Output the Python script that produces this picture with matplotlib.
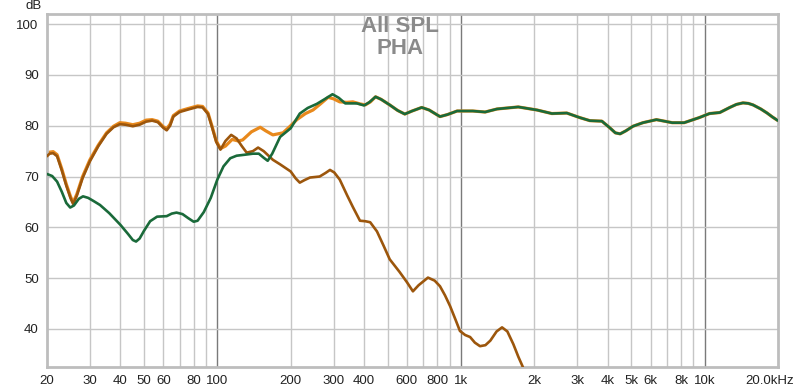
import matplotlib
matplotlib.use("Agg")
import matplotlib.pyplot as plt
from matplotlib.ticker import FixedLocator, NullFormatter, NullLocator
from matplotlib.transforms import ScaledTranslation

plt.rcParams['font.family'] = ['Liberation Sans', 'DejaVu Sans']

# ---- data ----
green_f = [20, 21, 22, 23, 24, 24.9, 25.8, 27, 28.1, 29.5, 31, 33, 36, 40, 43, 45, 46.4, 48,
           50, 53, 56.6, 62, 65, 68, 72, 76, 80, 83, 88, 94, 100, 106, 113, 120, 130, 140,
           148, 155, 161, 168, 181, 200, 218, 235, 256, 275, 297, 315, 335, 374, 400, 420,
           446, 470, 510, 550, 588, 630, 690, 740, 820, 880, 964, 1118, 1256, 1406, 1718,
           2050, 2360, 2718, 3074, 3380, 3786, 4080, 4300, 4500, 4750, 5080, 5580, 6340,
           7360, 8240, 9500, 10470, 11540, 12680, 13500, 14360, 15100, 15800, 17000, 18040,
           19000, 20000]
green_db = [70.5, 70.1, 69.0, 67.0, 64.8, 63.9, 64.3, 65.6, 66.1, 65.8, 65.2, 64.4, 62.8, 60.5,
            58.7, 57.5, 57.2, 57.8, 59.3, 61.2, 62.1, 62.2, 62.7, 62.9, 62.6, 61.8, 61.1, 61.3,
            63.0, 65.8, 69.4, 72.0, 73.6, 74.1, 74.3, 74.5, 74.5, 73.7, 73.1, 74.5, 77.8,
            79.5, 82.4, 83.5, 84.3, 85.2, 86.2, 85.5, 84.4, 84.4, 84.0, 84.6, 85.7, 85.2,
            84.1, 83.0, 82.3, 82.9, 83.6, 83.1, 81.8, 82.2, 82.9, 82.9, 82.7, 83.3, 83.7,
            83.1, 82.4, 82.5, 81.6, 81.0, 80.9, 79.6, 78.6, 78.4, 79.0, 79.9, 80.6, 81.2,
            80.6, 80.6, 81.6, 82.4, 82.6, 83.6, 84.2, 84.5, 84.4, 84.1, 83.3, 82.5, 81.7,
            81.0]

orange_f = [20, 20.5, 21.2, 22, 23, 24, 25, 25.6, 26.5, 28, 30, 32.5, 35.1, 37.5, 39.8, 42,
            45, 48, 51, 54, 57, 60, 62, 64, 66, 70, 76, 83, 87, 91.6, 95, 99, 103, 108, 115,
            122, 127, 138, 150, 158, 169, 186, 200, 212, 230, 247, 265, 285, 300, 318, 340,
            360, 385, 405, 425, 446, 470, 510, 550, 588, 630, 690, 740, 820, 880, 964, 1118,
            1256, 1406, 1718, 2050, 2360, 2718, 3074, 3380, 3786, 4080, 4300, 4500, 4750,
            5080, 5580, 6340, 7360, 8240, 9500, 10470, 11540, 12680, 13500, 14360, 15100,
            15800, 17000, 18040, 19000, 20000]
orange_db = [74.3, 74.8, 74.9, 74.3, 71.5, 68.5, 66.0, 64.9, 66.5, 70.0, 73.3, 76.2, 78.6, 79.9,
             80.6, 80.5, 80.2, 80.5, 81.1, 81.2, 80.9, 79.8, 79.4, 80.3, 82.0, 82.9, 83.4,
             83.9, 83.8, 82.5, 80.0, 77.0, 75.5, 76.0, 77.3, 77.0, 77.2, 78.8, 79.7, 79.0,
             78.2, 78.6, 80.0, 81.2, 82.4, 83.1, 84.3, 85.6, 85.3, 84.7, 84.6, 84.7, 84.3,
             84.1, 84.7, 85.7, 85.2, 84.1, 83.0, 82.3, 82.9, 83.6, 83.1, 81.8, 82.2, 82.9,
             82.9, 82.7, 83.3, 83.7, 83.1, 82.4, 82.5, 81.6, 81.0, 80.9, 79.6, 78.6, 78.4,
             79.0, 79.9, 80.6, 81.2, 80.6, 80.6, 81.6, 82.4, 82.6, 83.6, 84.2, 84.5, 84.4,
             84.1, 83.3, 82.5, 81.7, 81.0]

brown_f = [20, 20.5, 21.2, 22, 23, 24, 25, 25.6, 26.5, 28, 30, 32.5, 35.1, 37.5, 39.8, 42, 45,
           48, 51, 54, 57, 60, 62, 64, 66, 70, 76, 83, 87, 91.6, 95, 99, 103, 108, 114, 120,
           126, 132, 140, 147, 155, 169, 181, 200, 210, 218, 228, 240, 263, 278, 290, 302,
           318, 341, 360, 385, 405, 424, 452, 480, 510, 560, 600, 635, 670, 732, 780, 820,
           860, 902, 950, 990, 1040, 1090, 1140, 1197, 1260, 1320, 1400, 1474, 1550, 1640,
           1720, 1787, 1900]
brown_db = [74.0, 74.5, 74.6, 74.0, 71.2, 68.2, 65.7, 64.6, 66.2, 69.7, 73.0, 76.0, 78.4, 79.7,
            80.3, 80.2, 79.9, 80.2, 80.8, 81.0, 80.7, 79.6, 79.1, 80.0, 81.8, 82.7, 83.2, 83.7,
            83.6, 82.3, 79.8, 76.8, 75.3, 77.0, 78.2, 77.5, 76.0, 74.7, 75.0, 75.7, 75.0,
            73.3, 72.4, 71.0, 69.6, 68.8, 69.3, 69.8, 70.0, 70.7, 71.3, 70.8, 69.4, 66.3,
            64.0, 61.3, 61.2, 61.0, 59.2, 56.5, 53.7, 51.2, 49.2, 47.4, 48.6, 50.1, 49.5,
            48.4, 46.6, 44.5, 41.8, 39.6, 38.8, 38.4, 37.3, 36.6, 36.8, 37.7, 39.5, 40.3,
            39.5, 37.0, 34.5, 32.7, 29.5]

x_ticks = [20, 30, 40, 50, 60, 80, 100, 200, 300, 400, 600, 800, 1000, 2000, 3000, 4000,
           5000, 6000, 8000, 10000, 20000]
x_labels = ['20', '30', '40', '50', '60', '80', '100', '200', '300', '400', '600', '800', '1k',
            '2k', '3k', '4k', '5k', '6k', '8k', '10k', '20.0kHz']
y_ticks = [40, 50, 60, 70, 80, 90, 100]

# ---- figure ----
fig = plt.figure(figsize=(8, 3.89), dpi=100)
ax = fig.add_axes([47/800, 1 - 367/389, 731/800, 353/389])
ax.set_xscale('log')
ax.set_xlim(20, 20000)
ax.set_ylim(32.5, 102)

minor_grid = [30, 40, 50, 60, 70, 80, 90, 200, 300, 400, 500, 600, 700, 800, 900,
              2000, 3000, 4000, 5000, 6000, 7000, 8000, 9000]
for f in minor_grid:
    ax.axvline(f, color='#c6c6c6', lw=1.0, zorder=0)
for f in [100, 1000, 10000]:
    ax.axvline(f, color='#7a7a7a', lw=1.0, zorder=0)
for y in y_ticks:
    ax.axhline(y, color='#c6c6c6', lw=1.0, zorder=0)

ax.plot(orange_f, orange_db, color='#e8891c', lw=2.3, zorder=2,
        solid_capstyle='round', solid_joinstyle='round')
ax.plot(brown_f, brown_db, color='#9c560c', lw=1.9, zorder=3,
        solid_capstyle='round', solid_joinstyle='round')
ax.plot(green_f, green_db, color='#1a6a3a', lw=1.9, zorder=4,
        solid_capstyle='round', solid_joinstyle='round')

ax.xaxis.set_major_locator(FixedLocator(x_ticks))
ax.xaxis.set_minor_locator(NullLocator())
ax.xaxis.set_minor_formatter(NullFormatter())
ax.set_xticklabels(x_labels)
ax.set_yticks(y_ticks)
ax.set_yticklabels([str(v) for v in y_ticks])
ax.tick_params(axis='both', length=0, labelsize=9.5, colors='#222222', pad=6)
lbls = ax.get_xticklabels()
lbls[-1].set_horizontalalignment('right')
lbls[-1].set_transform(lbls[-1].get_transform() + ScaledTranslation(16/100, 0, fig.dpi_scale_trans))

for s in ax.spines.values():
    s.set_color('#bdbdbd')
    s.set_linewidth(2.0)

fig.text(34/800, 1 - 6/389, 'dB', ha='center', va='center', fontsize=9.5, color='#222222')
fig.text(400/800, 1 - 16/389, 'All SPL\nPHA', ha='center', va='top', fontsize=16,
         fontweight='bold', color='#8a8a8a', linespacing=1.05)

fig.savefig('out.png', dpi=100)
